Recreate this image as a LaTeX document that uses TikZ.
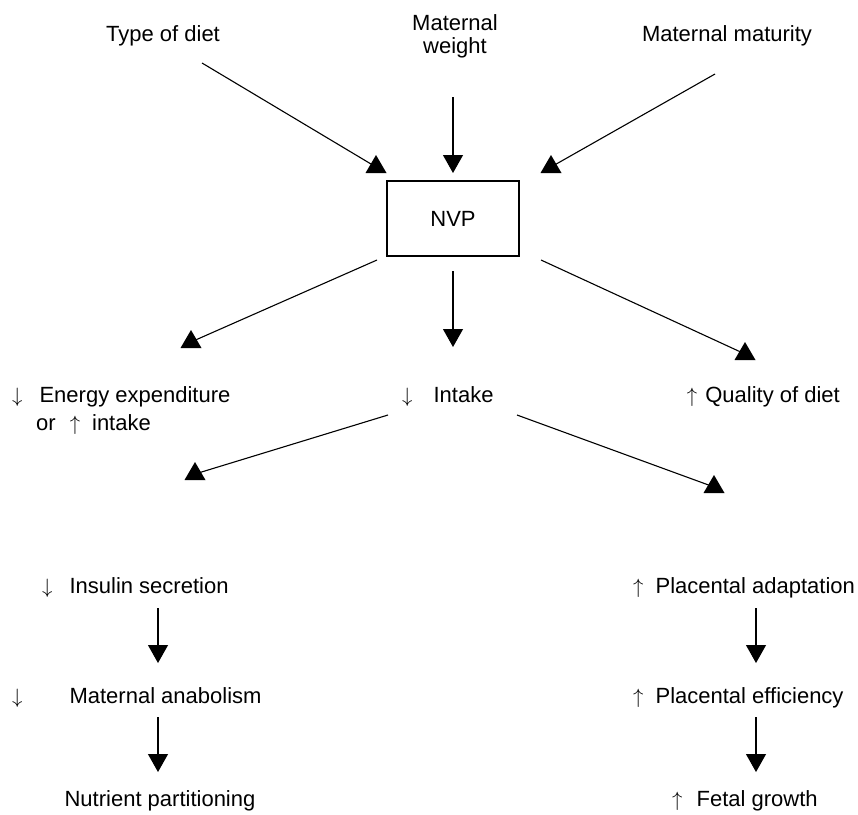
\documentclass[tikz,border=0pt]{standalone}
\usepackage{fontspec}
\setmainfont{Liberation Sans}
\usetikzlibrary{arrows.meta}
\newcommand\uptri[1]{\fill (#1) ++(0,-12) -- ++(10.5,18) -- ++(-21,0) -- cycle;}
\begin{document}
\begin{tikzpicture}[x=1pt,y=-1pt,
  lbl/.style={font=\fontsize{22}{26}\selectfont, inner sep=0pt},
  conn/.style={line width=1.1pt},
  downarr/.style={conn,-{Triangle[length=18pt,width=20pt]}},
  boxnode/.style={draw, line width=1.1pt, minimum width=132pt, minimum height=75pt, inner sep=0pt, font=\fontsize{22}{26}\selectfont}]
\useasboundingbox (0,0) rectangle (858,814);
% texts
\node[lbl, anchor=base] (type) at (163,41) {Type of diet};
\node[lbl, anchor=base] (mw1) at (455,30) {Maternal};
\node[lbl, anchor=base] (mw2) at (455,53) {weight};
\node[lbl, anchor=base] (mm) at (727,41) {Maternal maturity};
\node[boxnode] (nvp) at (453,218.5) {NVP};
\node[lbl, anchor=base west] (energy) at (12,402) {$\downarrow$\hspace{17pt}Energy expenditure};
\node[lbl, anchor=base west] (orint) at (36,430) {or\hspace{14pt}$\uparrow$\hspace{12pt}intake};
\node[lbl, anchor=base west] (intake) at (402,402) {$\downarrow$\hspace{21pt}Intake};
\node[lbl, anchor=base east] (quality) at (840,402) {$\uparrow$\hspace{8pt}Quality of diet};
\node[lbl, anchor=base west] (insulin) at (42,593) {$\downarrow$\hspace{17pt}Insulin secretion};
\node[lbl, anchor=base west] (anab) at (12,703) {$\downarrow$\hspace{47pt}Maternal anabolism};
\node[lbl, anchor=base] (nutr) at (160,806) {Nutrient partitioning};
\node[lbl, anchor=base west] (placad) at (633,593) {$\uparrow$\hspace{12pt}Placental adaptation};
\node[lbl, anchor=base west] (placeff) at (633,703) {$\uparrow$\hspace{12pt}Placental efficiency};
\node[lbl, anchor=base west] (fetal) at (672,806) {$\uparrow$\hspace{14pt}Fetal growth};
% connector ends
\coordinate (typeS) at (202,63);   \coordinate (typeE) at (376,167);
\coordinate (mwS) at (453,97);     \coordinate (mwE) at (453,173);
\coordinate (mmS) at (715,74);     \coordinate (mmE) at (551,167);
\coordinate (eS) at (377,260);     \coordinate (eE) at (191,342);
\coordinate (iS) at (453,271);     \coordinate (iE) at (453,347);
\coordinate (qS) at (541,260);     \coordinate (qE) at (745,354);
\coordinate (inS) at (388,415);    \coordinate (inE) at (195,474);
\coordinate (plS) at (517,415);    \coordinate (plE) at (714,487);
\coordinate (l1S) at (158,608);    \coordinate (l1E) at (158,663);
\coordinate (l2S) at (158,717);    \coordinate (l2E) at (158,772);
\coordinate (r1S) at (756,608);    \coordinate (r1E) at (756,663);
\coordinate (r2S) at (756,717);    \coordinate (r2E) at (756,772);
% connectors
\draw[conn] (typeS) -- (typeE); \uptri{typeE}
\draw[downarr] (mwS) -- (mwE);
\draw[conn] (mmS) -- (mmE); \uptri{mmE}
\draw[conn] (eS) -- (eE); \uptri{eE}
\draw[downarr] (iS) -- (iE);
\draw[conn] (qS) -- (qE); \uptri{qE}
\draw[conn] (inS) -- (inE); \uptri{inE}
\draw[conn] (plS) -- (plE); \uptri{plE}
\draw[downarr] (l1S) -- (l1E);
\draw[downarr] (l2S) -- (l2E);
\draw[downarr] (r1S) -- (r1E);
\draw[downarr] (r2S) -- (r2E);
\end{tikzpicture}
\end{document}
